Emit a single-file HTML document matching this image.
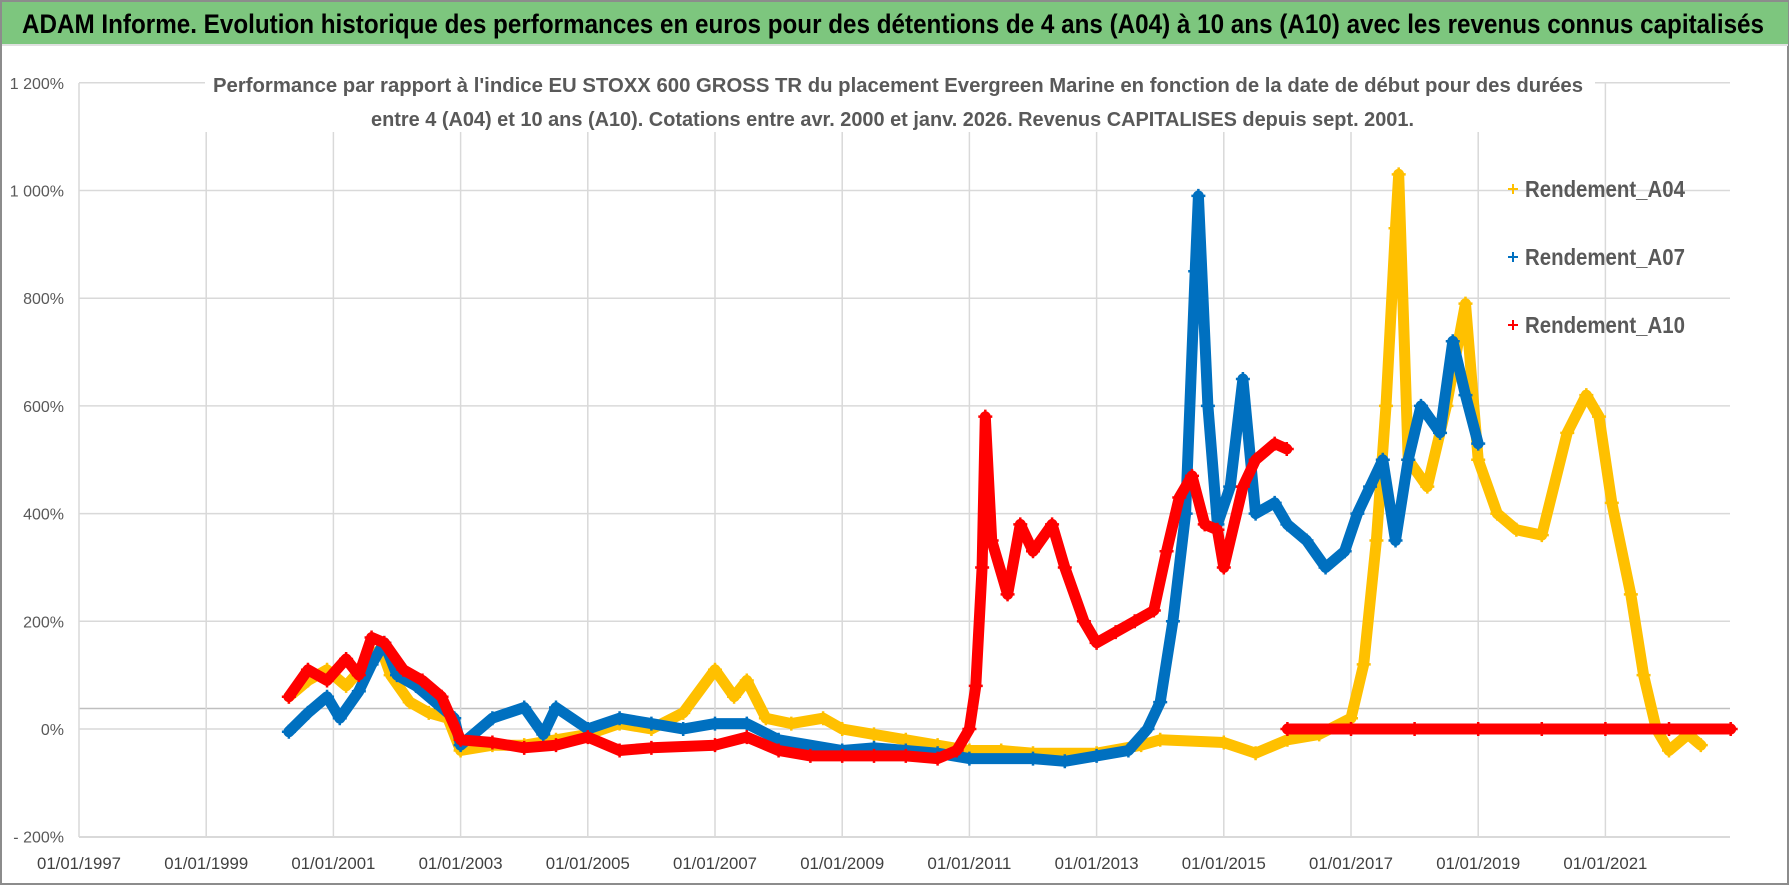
<!DOCTYPE html>
<html><head><meta charset="utf-8">
<style>
html,body{margin:0;padding:0;background:#fff;}
svg{display:block;font-family:"Liberation Sans",sans-serif;}
</style></head>
<body>
<svg id="chart" width="1790" height="886" viewBox="0 0 1790 886" xmlns="http://www.w3.org/2000/svg">
  <rect x="1" y="1" width="1787" height="883" fill="#fff" stroke="#8c8c8c" stroke-width="2"/>
  <rect x="2" y="2" width="1786" height="42" fill="#7dc67e"/>
  <line x1="2" y1="45" x2="1788" y2="45" stroke="#e0e0e0" stroke-width="2"/>
  <text x="22" y="33" font-size="27" font-weight="bold" fill="#000" textLength="1742" lengthAdjust="spacingAndGlyphs">ADAM Informe. Evolution historique des performances en euros pour des détentions de 4 ans (A04) à 10 ans (A10) avec les revenus connus capitalisés</text>
  <g id="grid"></g>
  <g id="axes"></g>
  <g id="series"></g>
  <rect x="205" y="62" width="1390" height="70" fill="#fff"/>
  <text x="213" y="92" font-size="20" font-weight="bold" fill="#595959" textLength="1370" lengthAdjust="spacingAndGlyphs">Performance par rapport à l'indice EU STOXX 600 GROSS TR  du placement Evergreen Marine  en fonction de la date de début pour des durées</text>
  <text x="371" y="126" font-size="20" font-weight="bold" fill="#595959" textLength="1043" lengthAdjust="spacingAndGlyphs">entre 4 (A04) et 10 ans (A10). Cotations entre avr. 2000 et janv. 2026. Revenus CAPITALISES depuis sept. 2001.</text>
  <g id="legend"></g>
</svg>
<script>
// ---- data ----
const yTicks = [-200, 0, 200, 400, 600, 800, 1000, 1200];
const yTickLabels = ["- 200%", "0%", "200%", "400%", "600%", "800%", "1 000%", "1 200%"];
const xTickYears = [1997, 1999, 2001, 2003, 2005, 2007, 2009, 2011, 2013, 2015, 2017, 2019, 2021];
const xTickLabels = ["01/01/1997","01/01/1999","01/01/2001","01/01/2003","01/01/2005","01/01/2007","01/01/2009","01/01/2011","01/01/2013","01/01/2015","01/01/2017","01/01/2019","01/01/2021"];
const seriesNames = ["Rendement_A04", "Rendement_A07", "Rendement_A10"];

const a04Dates = [2000.3,2000.6,2000.9,2001.2,2001.5,2001.75,2001.9,2002.2,2002.5,2002.8,2003.0,2003.5,2004.0,2004.5,2005.0,2005.5,2006.0,2006.5,2007.0,2007.3,2007.5,2007.8,2008.2,2008.7,2009.0,2009.5,2010.0,2010.5,2011.0,2011.5,2012.0,2013.0,2013.7,2014.0,2015.0,2015.5,2016.0,2016.5,2017.0,2017.2,2017.4,2017.55,2017.7,2017.75,2017.9,2018.2,2018.5,2018.8,2019.0,2019.3,2019.6,2020.0,2020.4,2020.7,2020.9,2021.1,2021.4,2021.6,2021.8,2022.0,2022.3,2022.5];
const a04Values = [60,90,110,80,120,150,100,50,30,20,-40,-30,-30,-20,-10,10,0,30,110,60,90,20,10,20,0,-10,-20,-30,-40,-40,-45,-45,-30,-20,-25,-45,-20,-10,20,120,350,600,930,1030,500,450,600,790,500,400,370,360,550,620,580,420,250,100,0,-40,-10,-30];

const a07Dates = [2000.3,2000.6,2000.9,2001.1,2001.4,2001.6,2001.8,2002.0,2002.3,2002.6,2002.9,2003.0,2003.5,2004.0,2004.3,2004.5,2005.0,2005.5,2006.0,2006.5,2007.0,2007.5,2008.0,2009.0,2009.5,2010.0,2010.5,2011.0,2012.0,2012.5,2013.0,2013.5,2013.8,2014.0,2014.2,2014.4,2014.55,2014.6,2014.75,2014.9,2015.1,2015.3,2015.5,2015.8,2016.0,2016.3,2016.6,2016.9,2017.1,2017.3,2017.5,2017.7,2017.9,2018.1,2018.4,2018.6,2018.8,2019.0];
const a07Values = [-5,30,60,20,70,120,160,100,80,50,20,-30,20,40,-10,40,0,20,10,0,10,10,-20,-40,-35,-40,-45,-55,-55,-60,-50,-40,0,50,200,400,850,990,600,380,450,650,400,420,380,350,300,330,400,450,500,350,500,600,550,720,620,530];

// null = gap in the series (no connection)
const a10Dates = [2000.3,2000.6,2000.9,2001.2,2001.4,2001.6,2001.8,2002.1,2002.4,2002.7,2003.0,2003.5,2004.0,2004.5,2005.0,2005.5,2006.0,2007.0,2007.5,2008.0,2008.5,2009.0,2009.5,2010.0,2010.5,2010.8,2011.0,2011.1,2011.2,2011.25,2011.35,2011.6,2011.8,2012.0,2012.3,2012.5,2012.8,2013.0,2013.3,2013.6,2013.9,2014.1,2014.3,2014.5,2014.7,2014.9,2015.0,2015.3,2015.5,2015.8,2015.99,2016.0,2016.0,2017.0,2018.0,2019.0,2020.0,2021.0,2022.0,2022.97];
const a10Values = [60,110,90,130,100,170,160,110,90,60,-20,-25,-35,-30,-15,-40,-35,-30,-15,-40,-50,-50,-50,-50,-55,-40,0,80,300,580,350,250,380,330,380,300,200,160,180,200,220,330,430,470,380,370,300,450,500,530,520,null,0,0,0,0,0,0,0,0];

const seriesDates = [a04Dates, a07Dates, a10Dates];
const seriesValues = [a04Values, a07Values, a10Values];
const seriesColors = ["#ffc000", "#0070c0", "#ff0000"];

// ---- axes ----
const NS = "http://www.w3.org/2000/svg";
const X0 = 79, PXYEAR = 63.6, Y0 = 729, PXPCT = 0.5385;
const PLOT_L = 79, PLOT_R = 1730, PLOT_T = 83, PLOT_B = 837;
function xs(year){ return X0 + (year - 1997) * PXYEAR; }
function ys(v){ return Y0 - v * PXPCT; }
function mk(tag, attrs, parent){ const e = document.createElementNS(NS, tag); for (const k in attrs) e.setAttribute(k, attrs[k]); parent.appendChild(e); return e; }

const grid = document.getElementById('grid');
const axes = document.getElementById('axes');
yTicks.forEach((t, i) => {
  if (t > -200) {
    const l = mk('line', {x1: PLOT_L, x2: PLOT_R, y1: ys(t), y2: ys(t), stroke: '#d9d9d9', 'stroke-width': 1.5}, grid);
    
    
  }
  const tx = mk('text', {x: 64, y: ys(t) + 6, 'font-size': 16, fill: '#595959', 'text-anchor': 'end'}, axes);
  tx.textContent = yTickLabels[i];
  
  
});
const hl = mk('line', {x1: PLOT_L, x2: PLOT_R, y1: 708.5, y2: 708.5, stroke: '#bfbfbf', 'stroke-width': 1.5}, grid);


xTickYears.forEach((yr, i) => {
  const l = mk('line', {x1: xs(yr), x2: xs(yr), y1: PLOT_T, y2: PLOT_B, stroke: '#d9d9d9', 'stroke-width': 1.5}, grid);
  
  
  const tx = mk('text', {x: xs(yr), y: 869, 'font-size': 17, fill: '#404040', 'text-anchor': 'middle', textLength: 84, lengthAdjust: 'spacingAndGlyphs'}, axes);
  tx.textContent = xTickLabels[i];
  
  
});
const xa = mk('line', {x1: PLOT_L, x2: PLOT_R, y1: PLOT_B, y2: PLOT_B, stroke: '#d9d9d9', 'stroke-width': 2}, axes);



// ---- series ----
const sg = document.getElementById('series');
seriesValues.forEach((vals, s) => {
  const g = mk('g', {}, sg);
  
  
  let segs = [[]];
  vals.forEach((v, i) => {
    if (v === null) { segs.push([]); return; }
    segs[segs.length - 1].push(xs(seriesDates[s][i]).toFixed(1) + ',' + ys(v).toFixed(1));
  });
  segs.forEach(seg => {
    if (!seg.length) return;
    const pl = mk('polyline', {points: seg.join(' '), fill: 'none', stroke: seriesColors[s], 'stroke-width': 11, 'stroke-linejoin': 'round', 'stroke-linecap': 'round'}, g);
    
    
  });
  vals.forEach((v, i) => {
    if (v === null) return;
    const x = xs(seriesDates[s][i]), y = ys(v);
    const m = mk('path', {d: `M${x-7},${y}H${x+7}M${x},${y-7}V${y+7}`, stroke: seriesColors[s], 'stroke-width': 2.5}, g);
    
    
  });
});

// ---- legend ----
const lg = document.getElementById('legend');
const legY = [197, 265, 333];
seriesNames.forEach((n, i) => {
  const e = mk('g', {}, lg);
  
  
  const y = legY[i];
  mk('path', {d: `M${1508},${y-8}H${1518}M${1513},${y-13}V${y-3}`, stroke: seriesColors[i], 'stroke-width': 2}, e);
  const t = mk('text', {x: 1525, y: y, 'font-size': 23, 'font-weight': 'bold', fill: '#595959', textLength: 160, lengthAdjust: 'spacingAndGlyphs'}, e);
  t.textContent = n;
});
</script>
</body></html>
